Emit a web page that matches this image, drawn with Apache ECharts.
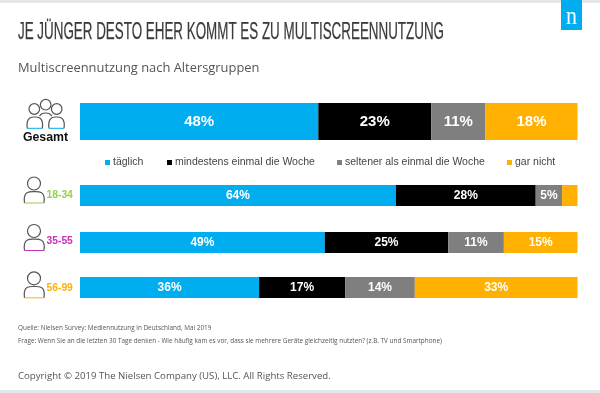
<!DOCTYPE html>
<html>
<head>
<meta charset="utf-8">
<style>html,body{margin:0;padding:0;background:#fff}#c{width:600px;height:393px}</style>
<script src="https://cdn.jsdelivr.net/npm/echarts@6/dist/echarts.min.js"></script>
</head>
<body>
<div id="c"></div>
<script>
const categories = ['Gesamt', '18-34', '35-55', '56-99'];
const seriesNames = ['täglich', 'mindestens einmal die Woche', 'seltener als einmal die Woche', 'gar nicht'];
const taeglich = [47.9, 63.5, 49.2, 36];
const mindestens = [22.7, 28.1, 24.8, 17.3];
const seltener = [10.9, 5.3, 11.2, 14];
const garNicht = [18.5, 3.1, 14.8, 32.7];
const labelTaeglich = ['48%', '64%', '49%', '36%'];
const labelMindestens = ['23%', '28%', '25%', '17%'];
const labelSeltener = ['11%', '5%', '11%', '14%'];
const labelGarNicht = ['18%', '', '15%', '33%'];
const ageColors = ['#000000', '#92d050', '#c631b8', '#ffb000'];
const seriesColors = ['#00aeef', '#000000', '#7f7f7f', '#ffb000'];

const values = [taeglich, mindestens, seltener, garNicht];
const labels = [labelTaeglich, labelMindestens, labelSeltener, labelGarNicht];
const rowTop = [103, 185, 232, 277];
const rowHeight = [37, 21, 21, 21];
const legendLeft = [105, 167, 337, 507];

const grids = [], xAxes = [], yAxes = [], series = [];
categories.forEach((cat, r) => {
  grids.push({left: 80, width: 497.5, top: rowTop[r], height: rowHeight[r]});
  xAxes.push({type: 'value', gridIndex: r, min: 0, max: 100, show: false});
  yAxes.push({type: 'category', gridIndex: r, data: [cat], show: false});
  seriesNames.forEach((name, s) => {
    series.push({
      type: 'bar', name, xAxisIndex: r, yAxisIndex: r, stack: cat, barWidth: '100%',
      silent: true, animation: false,
      itemStyle: {color: seriesColors[s]},
      label: {
        show: true, position: 'inside', color: '#fff', fontWeight: 'bold',
        fontFamily: 'Liberation Sans', fontSize: r === 0 ? 15 : 12,
        formatter: () => labels[s][r]
      },
      data: [values[s][r]]
    });
  });
});

const strokeColor = '#555';
function person(cx, headY, r, bodyL, bodyR, bodyTop, bottom, lineColor) {
  const m = (bodyL + bodyR) / 2;
  return [
    {type: 'circle', shape: {cx, cy: headY, r}, style: {fill: 'none', stroke: strokeColor, lineWidth: 1.2}},
    {type: 'polyline', shape: {smooth: 0.4, points: [[bodyL, bottom], [bodyL, bodyTop + 5], [bodyL + 2.5, bodyTop + 1], [m, bodyTop], [bodyR - 2.5, bodyTop + 1], [bodyR, bodyTop + 5], [bodyR, bottom]]},
      style: {fill: 'none', stroke: strokeColor, lineWidth: 1.2}},
    {type: 'line', shape: {x1: bodyL, y1: bottom, x2: bodyR, y2: bottom}, style: {stroke: lineColor, lineWidth: 1}}
  ];
}
function txt(text, x, y, font, fill, extra) {
  return Object.assign({type: 'text', x, y, style: {text, font, fill, textVerticalAlign: 'middle', textAlign: 'left'}}, extra || {});
}

const titleText = 'JE JÜNGER DESTO EHER KOMMT ES ZU MULTISCREENNUTZUNG';
const titleFont = '23.5px "Liberation Sans"';
const ctx = document.createElement('canvas').getContext('2d');
ctx.font = titleFont;
const titleScale = 426 / ctx.measureText(titleText).width;

const titleEl = txt(titleText, 18, 33, titleFont, '#3a3a3a', {scaleX: titleScale});
titleEl.style.stroke = '#3a3a3a';
titleEl.style.lineWidth = 0.25;

const graphics = [
  {type: 'rect', shape: {x: 0, y: 0, width: 600, height: 3}, style: {fill: '#e3e7ea'}},
  {type: 'rect', shape: {x: 0, y: 390, width: 600, height: 3}, style: {fill: '#e3e7ea'}},
  {type: 'rect', shape: {x: 561, y: 0, width: 21, height: 30}, style: {fill: '#00aeef'}},
  {type: 'text', x: 571.5, y: 17.5, scaleY: 1.15, style: {text: 'n', font: '22px "Liberation Serif"', fill: '#fff', textAlign: 'center', textVerticalAlign: 'middle'}},
  titleEl,
  txt('Multiscreennutzung nach Altersgruppen', 18, 68.5, '12.9px "Open Sans"', '#555'),
  txt('Quelle: Nielsen Survey: Mediennutzung in Deutschland, Mai 2019', 18, 328.5, '6.4px "Open Sans"', '#555'),
  txt('Frage: Wenn Sie an die letzten 30 Tage denken - Wie häufig kam es vor, dass sie mehrere Geräte gleichzeitig nutzten? (z.B. TV und Smartphone)', 18, 341.5, '6.4px "Open Sans"', '#555'),
  txt('Copyright © 2019 The Nielsen Company (US), LLC. All Rights Reserved.', 18, 376, '9.65px "Open Sans"', '#555'),
  {type: 'text', x: 45.5, y: 137.5, style: {text: categories[0], font: 'bold 12.3px "Liberation Sans"', fill: '#111', textAlign: 'center', textVerticalAlign: 'middle'}},
  ...person(34.3, 109, 5.3, 27.3, 42.3, 117, 128.3, '#00aeef'),
  ...person(56.7, 109, 5.3, 49, 64, 117, 128.3, '#00aeef'),
  {type: 'circle', shape: {cx: 45.7, cy: 104.7, r: 5.3}, style: {fill: '#fff', stroke: strokeColor, lineWidth: 1.2}},
  {type: 'polyline', shape: {smooth: 0.4, points: [[39.5, 116], [42.5, 113.5], [45.8, 113], [49, 113.5], [52, 116]]}, style: {fill: 'none', stroke: strokeColor, lineWidth: 1.2}},
];
[[183.5, 1, 11.5], [231, 2, 10.5], [278.3, 3, 10]].forEach(([h, i, dy]) => {
  graphics.push(...person(34, h, 6.5, 24.5, 44, h + 8.2, h + 19.5, ageColors[i]));
  graphics.push(txt(categories[i], 46.5, h + dy, 'bold 10.3px "Liberation Sans"', ageColors[i]));
});

const chart = echarts.init(document.getElementById('c'), null, {renderer: 'canvas'});
chart.setOption({
  animation: false,
  backgroundColor: '#fff',
  grid: grids, xAxis: xAxes, yAxis: yAxes, series,
  legend: seriesNames.map((name, i) => ({
    data: [name], left: legendLeft[i], top: 157, itemWidth: 5, itemHeight: 5, icon: 'rect', itemGap: 0, selectedMode: false,
    padding: 0,
    textStyle: {fontFamily: 'Liberation Sans', fontSize: 10.5, color: '#444', padding: [0, 0, 0, -2]}
  })),
  graphic: graphics
});
</script>
</body>
</html>
